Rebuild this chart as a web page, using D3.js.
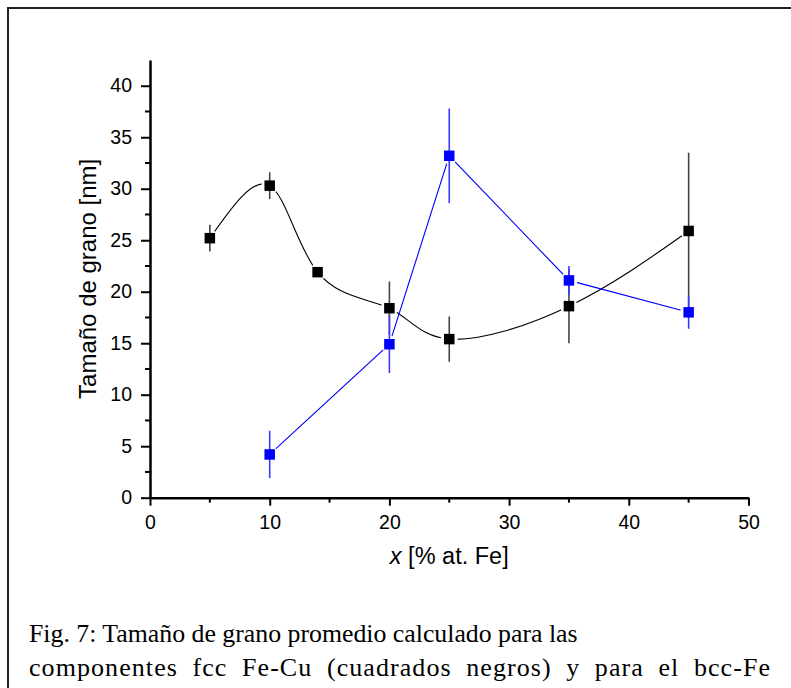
<!DOCTYPE html>
<html>
<head>
<meta charset="utf-8">
<script src="https://cdn.jsdelivr.net/npm/d3@7"></script>
<style>
  html, body { margin: 0; padding: 0; background: #fff; }
  svg { display: block; }
</style>
</head>
<body>
<script>
// ---- data ----
const fccX   = [5, 10, 14, 20, 25, 35, 45];
const fccY   = [25.2, 30.3, 21.9, 18.4, 15.4, 18.6, 25.9];
const fccErr = [1.3, 1.3, 0.4, 2.6, 2.2, 3.6, 7.6];

const bccX   = [10, 20, 25, 35, 45];
const bccY   = [4.2, 14.9, 33.2, 21.1, 18.0];
const bccErr = [2.3, 2.8, 4.6, 1.4, 1.6];

const xTicks = [0, 10, 20, 30, 40, 50];
const yTicks = [0, 5, 10, 15, 20, 25, 30, 35, 40];
const xMinor = [5, 15, 25, 35, 45];
const yMinor = [2.5, 7.5, 12.5, 17.5, 22.5, 27.5, 32.5, 37.5];

const yLabel = "Tamaño de grano [nm]";
const captionLines = [
  "Fig. 7: Tamaño de grano promedio calculado para las",
  "componentes fcc Fe-Cu (cuadrados negros) y para el bcc-Fe"
];

// ---- layout ----
const W = 791, H = 688;
const svg = d3.select("body").append("svg").attr("width", W).attr("height", H);
const defs = svg.append("defs");

// frame
svg.append("path")
  .attr("d", `M8,${H + 10} L8,8 L${W + 10},8`)
  .attr("fill", "none").attr("stroke", "#222").attr("stroke-width", 2);

const x = d3.scaleLinear().domain([0, 50]).range([150, 748.5]);
const y = d3.scaleLinear().domain([0, 42.5]).range([497.7, 60]);

const axisColor = "#000";
const tickFont = "Liberation Sans, Arial, sans-serif";

// x axis
const gx = svg.append("g").attr("transform", `translate(0,${y(0)})`);
gx.call(d3.axisBottom(x).tickValues(xTicks).tickSize(8).tickSizeOuter(0).tickPadding(9).tickFormat(d3.format("d")));
gx.append("g").selectAll("line").data(xMinor).join("line")
  .attr("x1", d => x(d)).attr("x2", d => x(d)).attr("y1", 0).attr("y2", 5)
  .attr("stroke", axisColor).attr("stroke-width", 2);

// y axis
const gy = svg.append("g").attr("transform", `translate(${x(0)},0)`);
gy.call(d3.axisLeft(y).tickValues(yTicks).tickSize(9).tickSizeOuter(0).tickPadding(9).tickFormat(d3.format("d")));
gy.append("g").selectAll("line").data(yMinor).join("line")
  .attr("y1", d => y(d)).attr("y2", d => y(d)).attr("x1", 0).attr("x2", -5)
  .attr("stroke", axisColor).attr("stroke-width", 2);

[gx, gy].forEach(g => {
  g.select(".domain").attr("stroke", axisColor).attr("stroke-width", 2.5);
  g.selectAll(".tick line").attr("stroke", axisColor).attr("stroke-width", 2);
  g.selectAll(".tick text").attr("font-family", tickFont).attr("font-size", 19.5).attr("fill", "#000");
});

// axis titles
svg.append("text")
  .attr("transform", `translate(96,${(y(0) + y(42.5)) / 2}) rotate(-90)`)
  .attr("text-anchor", "middle")
  .attr("font-family", tickFont).attr("font-size", 24).attr("fill", "#000")
  .text(yLabel);

const xt = svg.append("text")
  .attr("x", (x(0) + x(50)) / 2).attr("y", 564)
  .attr("text-anchor", "middle")
  .attr("font-family", tickFont).attr("font-size", 23.5).attr("fill", "#000");
xt.append("tspan").attr("font-style", "italic").text("x");
xt.append("tspan").text(" [% at. Fe]");

// ---- series ----
function drawSeries(id, xs, ys, errs, color, errColor, curve) {
  const pts = xs.map((d, i) => ({ x: d, y: ys[i], e: errs[i] }));
  // mask leaves a small gap in the connecting line around each marker
  const m = defs.append("mask").attr("id", id).attr("maskUnits", "userSpaceOnUse")
    .attr("x", 0).attr("y", 0).attr("width", W).attr("height", H);
  m.append("rect").attr("width", W).attr("height", H).attr("fill", "#fff");
  m.selectAll("circle").data(pts).join("circle")
    .attr("cx", d => x(d.x)).attr("cy", d => y(d.y)).attr("r", 8.5).attr("fill", "#000");
  const line = d3.line().x(d => x(d.x)).y(d => y(d.y)).curve(curve);
  svg.append("path").datum(pts)
    .attr("d", line).attr("fill", "none")
    .attr("mask", `url(#${id})`)
    .attr("stroke", color).attr("stroke-width", 1.1);
  svg.append("g").selectAll("line").data(pts).join("line")
    .attr("x1", d => x(d.x)).attr("x2", d => x(d.x))
    .attr("y1", d => y(d.y - d.e)).attr("y2", d => y(d.y + d.e))
    .attr("stroke", errColor).attr("stroke-width", 1.6);
  const s = 10.5;
  svg.append("g").selectAll("rect").data(pts).join("rect")
    .attr("x", d => x(d.x) - s / 2).attr("y", d => y(d.y) - s / 2)
    .attr("width", s).attr("height", s)
    .attr("fill", color);
}

drawSeries("mfcc", fccX, fccY, fccErr, "#000", "#444", d3.curveNatural);
drawSeries("mbcc", bccX, bccY, bccErr, "#0000ff", "#3a3aff", d3.curveLinear);

// ---- caption ----
const capFont = "Liberation Serif, 'Times New Roman', serif";
const c1 = svg.append("text")
  .attr("x", 29).attr("y", 642)
  .attr("font-family", capFont).attr("font-size", 25.8).attr("fill", "#000")
  .text(captionLines[0]);
// line 2 stretched to the right edge like justified text
const c2 = svg.append("text")
  .attr("x", 29).attr("y", 676)
  .attr("font-family", capFont).attr("font-size", 26).attr("fill", "#000")
  .text(captionLines[1]);
{
  const t = captionLines[1];
  const len = c2.node().getComputedTextLength();
  const spaces = (t.match(/ /g) || []).length;
  const extra = 741 - len;
  if (extra > 0) {
    const ws = Math.min(7, extra / spaces);
    const ls = (extra - ws * spaces) / (t.length - 1);
    c2.attr("word-spacing", ws).attr("letter-spacing", ls);
  }
}
</script>
</body>
</html>
